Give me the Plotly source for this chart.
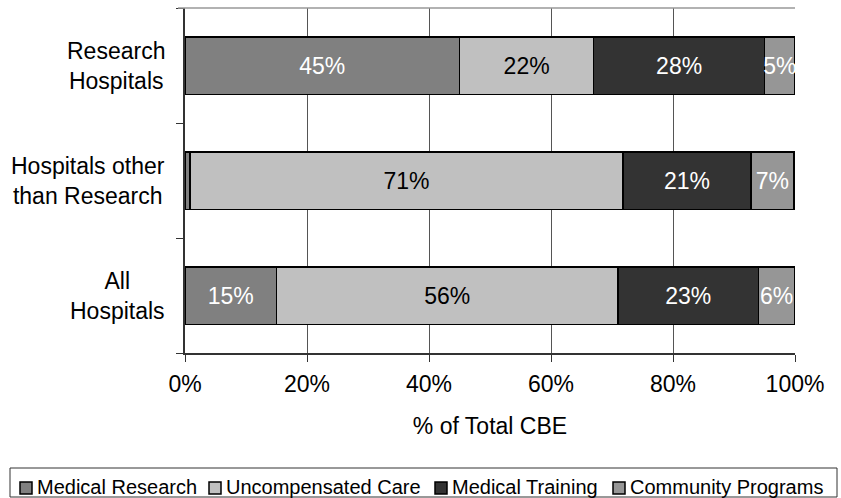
import plotly.graph_objects as go

categories = ["All Hospitals", "Hospitals other than Research", "Research Hospitals"]
category_labels = ["All<br>Hospitals", "Hospitals other<br>than Research", "Research<br>Hospitals"]
series_names = ["Medical Research", "Uncompensated Care", "Medical Training", "Community Programs"]
medical_research = [15, 0.8, 45]
uncompensated_care = [56, 71, 22]
medical_training = [23, 21, 28]
community_programs = [6, 7, 5]
series_values = [medical_research, uncompensated_care, medical_training, community_programs]
label_texts = [
    ["15%", "", "45%"],
    ["56%", "71%", "22%"],
    ["23%", "21%", "28%"],
    ["6%", "7%", "5%"],
]
colors = ["#808080", "#C0C0C0", "#333333", "#969696"]
text_colors = ["white", "black", "white", "white"]
x_ticks = [0, 20, 40, 60, 80, 100]

FONT = "Liberation Sans, Arial, sans-serif"
FS = 23

# layout geometry (pixels)
W, H = 841, 498
ML, MR, MT, MB = 185, 46, 8, 145
PW, PH = W - ML - MR, H - MT - MB


def px_x(px):
    return (px - ML) / PW


def px_y(py):
    return (H - MB - py) / PH


fig = go.Figure()
for name, vals, txt, col, tcol in zip(series_names, series_values, label_texts, colors, text_colors):
    fig.add_trace(go.Bar(
        y=categories, x=vals, name=name, orientation="h",
        marker=dict(color=col, line=dict(color="black", width=1.5)),
        text=txt, textposition="inside", insidetextanchor="middle",
        textangle=0, constraintext="none",
        textfont=dict(color=tcol, size=FS, family=FONT),
        width=0.5, hoverinfo="skip", showlegend=False,
    ))

for cat, lab in zip(categories, category_labels):
    fig.add_annotation(
        x=0, y=cat, xref="paper", yref="y", text=lab, showarrow=False,
        xanchor="right", yanchor="middle", align="center", xshift=-18,
        font=dict(size=FS, family=FONT, color="black"),
    )

# light plot-area top border
fig.add_shape(type="line", xref="paper", yref="paper", x0=px_x(178), x1=1, y0=1, y1=1,
              line=dict(color="#999999", width=1.5))

# custom legend (single row, Excel style)
legend_box = dict(x0=10, x1=837, y0=468, y1=497)
fig.add_shape(type="rect", xref="paper", yref="paper",
              x0=px_x(legend_box["x0"]), x1=px_x(legend_box["x1"]),
              y0=px_y(legend_box["y1"]), y1=px_y(legend_box["y0"]),
              line=dict(color="#333333", width=1), fillcolor="white", layer="above")
legend_symbol_x = [20, 209, 435, 613]
for name, col, sx in zip(series_names, colors, legend_symbol_x):
    fig.add_shape(type="rect", xref="paper", yref="paper",
                  x0=px_x(sx), x1=px_x(sx + 12), y0=px_y(494), y1=px_y(482),
                  line=dict(color="black", width=1.5), fillcolor=col, layer="above")
    fig.add_annotation(x=px_x(sx + 15), y=px_y(487), xref="paper", yref="paper",
                       text=name, showarrow=False, xanchor="left", yanchor="middle",
                       font=dict(size=20, family=FONT, color="black"))

fig.update_layout(
    barmode="stack",
    width=W, height=H,
    margin=dict(l=ML, r=MR, t=MT, b=MB, autoexpand=False),
    paper_bgcolor="white", plot_bgcolor="white",
    font=dict(family=FONT, size=FS, color="black"),
    showlegend=False,
    xaxis=dict(
        range=[0, 100], tickvals=x_ticks, ticktext=[f"{v}%" for v in x_ticks],
        showgrid=True, gridcolor="#555555", gridwidth=1,
        showline=True, linecolor="#333333", linewidth=1.5,
        ticks="outside", ticklen=7, tickcolor="#333333",
        ticklabelstandoff=3,
        tickfont=dict(size=FS, family=FONT, color="black"),
        title=dict(text="% of Total CBE", font=dict(size=FS, family=FONT, color="black"), standoff=22),
        zeroline=False,
    ),
    yaxis=dict(
        categoryorder="array", categoryarray=categories,
        showticklabels=False, showgrid=False,
        showline=True, linecolor="#333333", linewidth=1.5,
        ticks="outside", ticklen=7, tickcolor="#333333", tickson="boundaries",
    ),
)

fig.write_html(
    "out.html",
    config={"displayModeBar": False},
    post_script="document.body.style.margin='0';document.body.style.overflow='hidden';",
)
